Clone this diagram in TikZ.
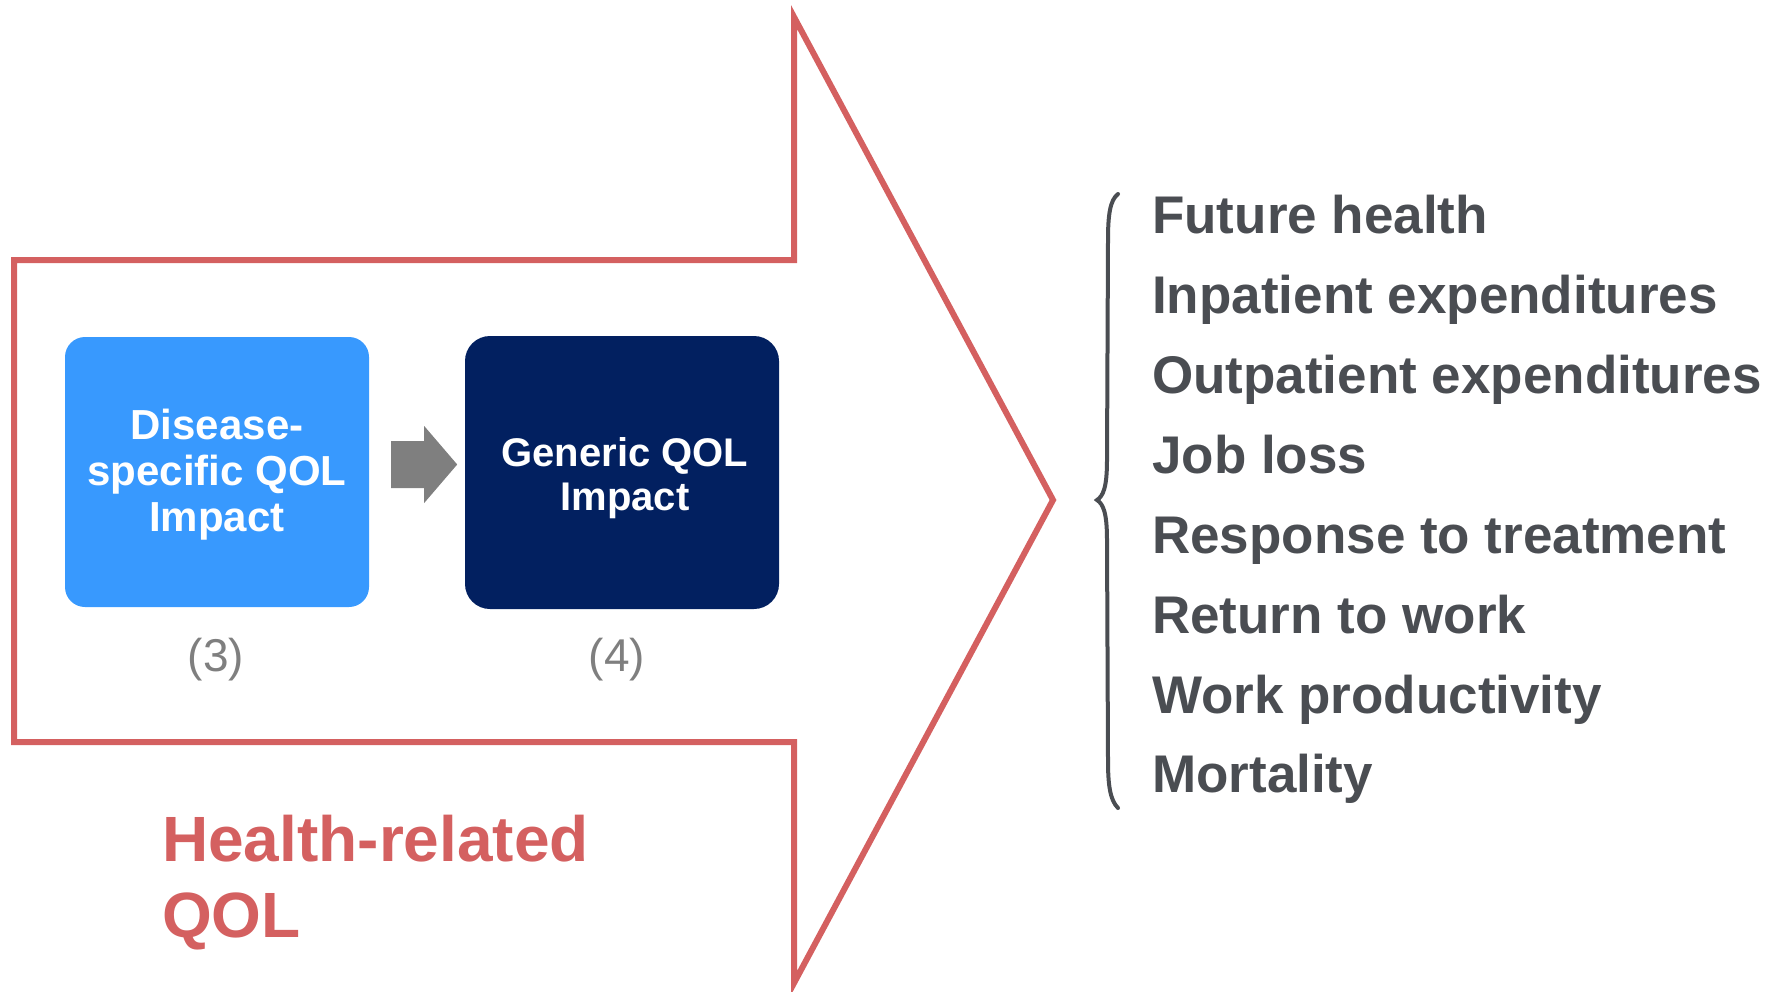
\documentclass[tikz,border=0pt]{standalone}
\usepackage{fontspec}
\setmainfont{Liberation Sans}
\usetikzlibrary{calc}
\definecolor{qred}{RGB}{212,96,96}
\definecolor{qblue}{RGB}{56,153,254}
\definecolor{qnavy}{RGB}{2,32,96}
\definecolor{qgray}{RGB}{74,77,82}
\definecolor{qmid}{RGB}{127,127,127}
\begin{document}
\begin{tikzpicture}[x=1pt,y=-1pt,
  box/.style={rounded corners=20pt, inner sep=0pt, text=white, align=center,
    font=\fontsize{42}{46}\selectfont\bfseries},
  item/.style={anchor=base west, inner sep=0pt, text=qgray,
    font=\fontsize{53}{60}\selectfont\bfseries},
  num/.style={inner sep=0pt, text=qmid, font=\fontsize{46}{50}\selectfont}]
\useasboundingbox (0,0) rectangle (1785,991);
% big outline arrow
\draw[qred, line width=6pt, line join=miter]
  (14,260) -- (794,260) -- (794,17) -- (1053,500) -- (794,983) -- (794,742) -- (14,742) -- cycle;
% boxes
\node[box, fill=qblue, minimum width=304pt, minimum height=270pt] (d3) at (217,472) {};
\node[inner sep=0pt, text=white, align=center, font=\fontsize{42}{46}\selectfont\bfseries]
  (d3t) at ($(d3.center)+(0,3)$) {Disease-\\specific QOL\\Impact};
\node[box, fill=qnavy, minimum width=314pt, minimum height=273pt, rounded corners=25pt] (g4) at (622,472.5) {};
\node[inner sep=0pt, text=white, align=center, font=\fontsize{40}{44}\selectfont\bfseries]
  (g4t) at ($(g4.center)+(3,6)$) {Generic QOL\\Impact};
% block arrow between boxes
\fill[qmid] ($(d3.east)+(22,-31)$) -- ++(33,0) -- ++(0,-15) -- ++(33,38.5)
  -- ++(-33,38.5) -- ++(0,-15) -- ++(-33,0) -- cycle;
% numbers
\node[num] (n3) at ($(d3.south)+(-1,52)$) {(3)};
\node[num] (n4) at ($(g4.south)+(-5,50.5)$) {(4)};
% label
\node[anchor=north west, inner sep=0pt, text=qred, align=left,
  font=\fontsize{64}{76}\selectfont\bfseries] (hr) at (162,815) {Health-related\\QOL};
% brace
\draw[qgray, line width=4pt, line cap=round]
  (1118,194) .. controls (1110,200) and (1108,215) .. (1108,240) -- (1107,460)
  .. controls (1107,488) and (1103,496) .. (1097,500)
  .. controls (1103,504) and (1107,512) .. (1107,540) -- (1108,760)
  .. controls (1108,785) and (1110,800) .. (1118,808);
% list
\node[item] (l1) at (1152,233) {Future health};
\node[item] (l2) at (1152,313) {Inpatient expenditures};
\node[item] (l3) at (1152,393) {Outpatient expenditures};
\node[item] (l4) at (1152,473) {Job loss};
\node[item] (l5) at (1152,553) {Response to treatment};
\node[item] (l6) at (1152,633) {Return to work};
\node[item] (l7) at (1152,713) {Work productivity};
\node[item] (l8) at (1152,792) {Mortality};
\end{tikzpicture}
\end{document}
